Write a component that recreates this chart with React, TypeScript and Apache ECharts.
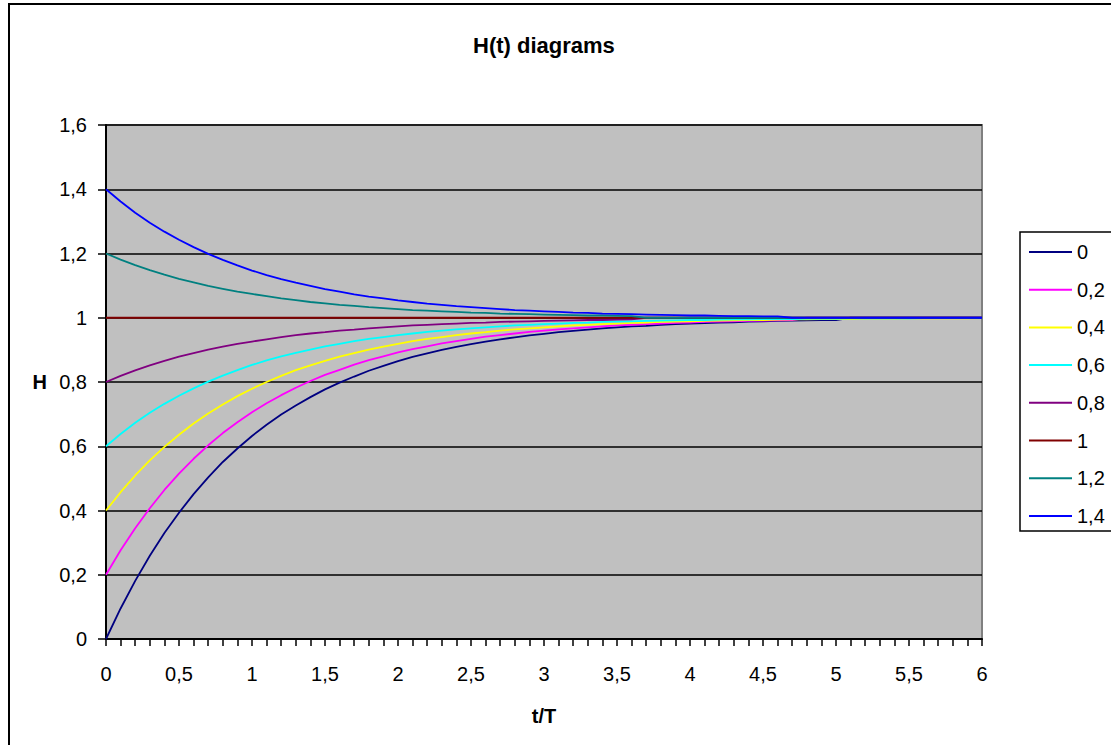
import React, { useEffect, useRef } from "react";
import * as echarts from "echarts";

const tLabels = [
  "0", "0,1", "0,2", "0,3", "0,4", "0,5", "0,6", "0,7", "0,8", "0,9",
  "1", "1,1", "1,2", "1,3", "1,4", "1,5", "1,6", "1,7", "1,8", "1,9",
  "2", "2,1", "2,2", "2,3", "2,4", "2,5", "2,6", "2,7", "2,8", "2,9",
  "3", "3,1", "3,2", "3,3", "3,4", "3,5", "3,6", "3,7", "3,8", "3,9",
  "4", "4,1", "4,2", "4,3", "4,4", "4,5", "4,6", "4,7", "4,8", "4,9",
  "5", "5,1", "5,2", "5,3", "5,4", "5,5", "5,6", "5,7", "5,8", "5,9",
  "6",
];

const seriesNames = ["0", "0,2", "0,4", "0,6", "0,8", "1", "1,2", "1,4"];
const seriesColors = ["#000080", "#FF00FF", "#FFFF00", "#00FFFF", "#800080", "#800000", "#008080", "#0000FF"];

const h00 = [
  0, 0.095, 0.181, 0.259, 0.330, 0.393, 0.451, 0.503, 0.551, 0.593, 0.632,
  0.667, 0.699, 0.727, 0.753, 0.777, 0.798, 0.817, 0.835, 0.850, 0.865,
  0.878, 0.889, 0.900, 0.909, 0.918, 0.926, 0.933, 0.939, 0.945, 0.950,
  0.955, 0.959, 0.963, 0.967, 0.970, 0.973, 0.975, 0.978, 0.980, 0.982,
  0.983, 0.985, 0.986, 0.988, 0.989, 0.990, 0.991, 0.992, 0.993, 0.993,
  1, 1, 1, 1, 1, 1, 1, 1, 1, 1,
];
const h02 = [
  0.200, 0.276, 0.345, 0.407, 0.464, 0.515, 0.561, 0.603, 0.641, 0.675, 0.706,
  0.734, 0.759, 0.782, 0.803, 0.822, 0.838, 0.854, 0.868, 0.880, 0.892,
  0.902, 0.911, 0.920, 0.927, 0.934, 0.941, 0.946, 0.951, 0.956, 0.960,
  0.964, 0.967, 0.970, 0.973, 0.976, 0.978, 0.980, 0.982, 0.984, 0.985,
  0.987, 0.988, 0.989, 0.990, 0.991, 0.992, 0.993, 1, 1, 1,
  1, 1, 1, 1, 1, 1, 1, 1, 1, 1,
];
const h04 = [
  0.400, 0.457, 0.509, 0.556, 0.598, 0.636, 0.671, 0.702, 0.730, 0.756, 0.779,
  0.800, 0.819, 0.837, 0.852, 0.866, 0.879, 0.890, 0.901, 0.910, 0.919,
  0.927, 0.934, 0.940, 0.946, 0.951, 0.955, 0.960, 0.964, 0.967, 0.970,
  0.973, 0.976, 0.978, 0.980, 0.982, 0.984, 0.985, 0.987, 0.988, 0.989,
  0.990, 0.991, 0.992, 0.993, 0.993, 0.994, 0.995, 0.995, 0.996, 0.996,
  0.996, 0.997, 0.997, 0.997, 0.998, 0.998, 0.998, 0.998, 0.998, 0.999,
];
const h06 = [
  0.600, 0.638, 0.673, 0.704, 0.732, 0.757, 0.780, 0.801, 0.820, 0.837, 0.853,
  0.867, 0.880, 0.891, 0.901, 0.911, 0.919, 0.927, 0.934, 0.940, 0.946,
  0.951, 0.956, 0.960, 0.964, 0.967, 0.970, 0.973, 0.976, 0.978, 0.980,
  0.982, 0.984, 0.985, 0.987, 0.988, 0.989, 0.990, 0.991, 0.992, 0.993,
  0.993, 0.994, 0.995, 0.995, 0.996, 0.996, 0.996, 0.997, 0.997, 0.997,
  0.998, 0.998, 0.998, 0.998, 0.998, 0.999, 0.999, 0.999, 0.999, 0.999,
];
const h08 = [
  0.800, 0.819, 0.836, 0.852, 0.866, 0.879, 0.890, 0.901, 0.910, 0.919, 0.926,
  0.933, 0.940, 0.946, 0.951, 0.955, 0.960, 0.963, 0.967, 0.970, 0.973,
  0.976, 0.978, 0.980, 0.982, 0.984, 0.985, 0.987, 0.988, 0.989, 0.990,
  0.991, 0.992, 0.993, 0.993, 0.994, 0.995, 1, 1, 1, 1,
  1, 1, 1, 1, 1, 1, 1, 1, 1, 1,
  1, 1, 1, 1, 1, 1, 1, 1, 1, 1,
];
const h10 = [
  1, 1, 1, 1, 1, 1, 1, 1, 1, 1, 1,
  1, 1, 1, 1, 1, 1, 1, 1, 1, 1,
  1, 1, 1, 1, 1, 1, 1, 1, 1, 1,
  1, 1, 1, 1, 1, 1, 1, 1, 1, 1,
  1, 1, 1, 1, 1, 1, 1, 1, 1, 1,
  1, 1, 1, 1, 1, 1, 1, 1, 1, 1,
];
const h12 = [
  1.200, 1.181, 1.164, 1.148, 1.134, 1.121, 1.110, 1.099, 1.090, 1.081, 1.074,
  1.067, 1.060, 1.055, 1.049, 1.045, 1.040, 1.037, 1.033, 1.030, 1.027,
  1.024, 1.022, 1.020, 1.018, 1.016, 1.015, 1.013, 1.012, 1.011, 1.010,
  1.009, 1.008, 1.007, 1.007, 1.006, 1.005, 1, 1, 1, 1,
  1, 1, 1, 1, 1, 1, 1, 1, 1, 1,
  1, 1, 1, 1, 1, 1, 1, 1, 1, 1,
];
const h14 = [
  1.400, 1.362, 1.327, 1.296, 1.268, 1.243, 1.220, 1.199, 1.180, 1.163, 1.147,
  1.133, 1.120, 1.109, 1.099, 1.089, 1.081, 1.073, 1.066, 1.060, 1.054,
  1.049, 1.044, 1.040, 1.036, 1.033, 1.030, 1.027, 1.024, 1.022, 1.020,
  1.018, 1.016, 1.015, 1.013, 1.012, 1.011, 1.010, 1.009, 1.008, 1.007,
  1.007, 1.006, 1.005, 1.005, 1.004, 1.004, 1, 1, 1, 1,
  1, 1, 1, 1, 1, 1, 1, 1, 1, 1,
];

const seriesData = [h00, h02, h04, h06, h08, h10, h12, h14];

const FONT = "'Liberation Sans', Arial, sans-serif";

export default function App() {
  const ref = useRef<HTMLDivElement>(null);

  useEffect(() => {
    if (!ref.current) return;
    const chart = echarts.init(ref.current, null, { renderer: "svg" });
    const option: any = {
      animation: false,
      backgroundColor: "#FFFFFF",
      textStyle: { fontFamily: FONT, color: "#000" },
      graphic: [
        {
          type: "rect",
          silent: true,
          z: 100,
          shape: { x: 9, y: 4, width: 1200, height: 800 },
          style: { fill: "none", stroke: "#000", lineWidth: 2 },
        },
      ],
      title: {
        text: "H(t) diagrams",
        left: 473,
        top: 34,
        padding: 0,
        textStyle: { fontFamily: FONT, fontSize: 22, fontWeight: "bold", color: "#000" },
      },
      legend: {
        orient: "vertical",
        left: 1020,
        top: 232,
        padding: [10, 40, 5, 9],
        itemGap: 17.7,
        itemWidth: 43,
        itemHeight: 2,
        icon: "rect",
        backgroundColor: "#FFFFFF",
        borderColor: "#000",
        borderWidth: 1.5,
        borderRadius: 0,
        textStyle: { fontFamily: FONT, fontSize: 20, color: "#000", lineHeight: 20, padding: [0, 0, 0, 0] },
        data: seriesNames,
      },
      grid: {
        left: 106,
        top: 125,
        right: 129,
        bottom: 106,
        show: true,
        backgroundColor: "#C0C0C0",
        borderColor: "#808080",
        borderWidth: 2,
        containLabel: false,
        outerBoundsMode: "none",
      },
      xAxis: {
        type: "category",
        data: tLabels,
        boundaryGap: false,
        name: "t/T",
        nameLocation: "middle",
        nameGap: 67,
        nameTextStyle: { fontFamily: FONT, fontSize: 20, fontWeight: "bold", color: "#000" },
        axisLine: { show: true, lineStyle: { color: "#000", width: 2 } },
        axisTick: { show: true, interval: 0, length: 7, inside: false, lineStyle: { color: "#000", width: 1.5 } },
        axisLabel: { interval: 4, margin: 25, fontFamily: FONT, fontSize: 20, color: "#000" },
        splitLine: { show: false },
      },
      yAxis: {
        type: "value",
        min: 0,
        max: 1.6,
        interval: 0.2,
        name: "H",
        nameLocation: "middle",
        nameRotate: 0,
        nameGap: 59,
        nameTextStyle: { fontFamily: FONT, fontSize: 20, fontWeight: "bold", color: "#000" },
        axisLine: { show: true, lineStyle: { color: "#000", width: 2 } },
        axisTick: { show: true, length: 8, inside: false, lineStyle: { color: "#000", width: 1.5 } },
        axisLabel: {
          margin: 19,
          fontFamily: FONT,
          fontSize: 20,
          color: "#000",
          formatter: (v: number) => String(Math.round(v * 10) / 10).replace(".", ","),
        },
        splitLine: { show: true, lineStyle: { color: "#000", width: 1.5 } },
      },
      series: seriesNames.map((name, i) => ({
        name,
        type: "line",
        data: seriesData[i],
        showSymbol: false,
        symbol: "none",
        smooth: false,
        color: seriesColors[i],
        lineStyle: { color: seriesColors[i], width: 1.8 },
        itemStyle: { color: seriesColors[i] },
      })),
    };
    chart.setOption(option);
    return () => {
      chart.dispose();
    };
  }, []);

  return (
    <div
      ref={ref}
      style={{ position: "absolute", left: 0, top: 0, width: 1111, height: 745, background: "#fff" }}
    />
  );
}
